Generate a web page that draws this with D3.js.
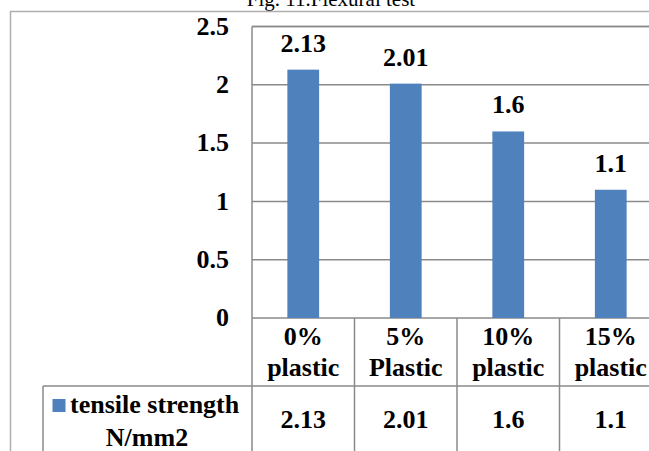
<!DOCTYPE html>
<html><head><meta charset="utf-8">
<script src="https://cdn.jsdelivr.net/npm/d3@7"></script>
<style>
html,body{margin:0;padding:0;background:#fff;overflow:hidden;}
</style></head>
<body>
<svg id="c" width="649" height="451"></svg>
<script>
const categories = ["0%|plastic", "5%|Plastic", "10%|plastic", "15%|plastic"];
const values = [2.13, 2.01, 1.6, 1.1];
const yTicks = [0, 0.5, 1, 1.5, 2, 2.5];
const seriesName = ["tensile strength", "N/mm2"];
const titleText = "Fig. 11.Flexural test";

const FONT = '"Liberation Serif"';
const svg = d3.select("#c");
const W = 649, H = 451;
const plotL = 252, plotR = 662, plotT = 26.5, plotB = 318;
const rowB = 386, legL = 43;
const grid = "#8a8a8a";
const barColor = "#4F81BD";

function bold(sel) {
  return sel.style("font-family", FONT).style("font-weight", "bold").style("font-size", "26px").attr("fill", "#000");
}

const x = d3.scaleBand().domain(categories).range([plotL, plotR]).paddingInner(0.69).paddingOuter(0.345);
const y = d3.scaleLinear().domain([0, 2.5]).range([plotB, plotT]);

// title
svg.append("text").attr("x", 331).attr("y", 6).attr("text-anchor", "middle")
  .style("font-family", FONT).style("font-size", "21px").attr("fill", "#000").text(titleText);

// outer frame
svg.append("path").attr("d", `M${W+5},11.5 H10.5 V${H+5}`).attr("fill", "none")
  .attr("stroke", "#aeaeae").attr("stroke-width", 1.5);

// gridlines
svg.append("g").selectAll("line").data(yTicks).join("line")
  .attr("x1", plotL).attr("x2", plotR)
  .attr("y1", d => y(d)).attr("y2", d => y(d))
  .attr("stroke", grid).attr("stroke-width", 1.5);

// y-axis labels
const yAxis = d3.axisLeft(y).tickValues(yTicks).tickSize(0).tickPadding(0).tickFormat(d3.format("~g"));
const ga = svg.append("g").attr("transform", `translate(229,0)`).call(yAxis);
ga.select(".domain").remove();
ga.attr("font-family", null).attr("font-size", null);
bold(ga.selectAll("text")).attr("dy", "0.3em");

// bars
svg.append("g").selectAll("rect").data(values).join("rect")
  .attr("x", (d, i) => x(categories[i])).attr("width", x.bandwidth())
  .attr("y", d => y(d)).attr("height", d => y(0) - y(d))
  .attr("fill", barColor);

// data labels
bold(svg.append("g").selectAll("text").data(values).join("text"))
  .attr("x", (d, i) => x(categories[i]) + x.bandwidth() / 2)
  .attr("y", d => y(d) - 18).attr("text-anchor", "middle")
  .text(d => d3.format("~g")(d));

// table lines
const step = x.step();
const edges = d3.range(categories.length + 1).map(i => plotL + i * step);
svg.append("line").attr("x1", plotL).attr("x2", plotL).attr("y1", plotT).attr("y2", H + 5)
  .attr("stroke", grid).attr("stroke-width", 1.5);
svg.append("g").selectAll("line").data(edges.slice(1)).join("line")
  .attr("x1", d => d).attr("x2", d => d).attr("y1", plotB).attr("y2", H + 5)
  .attr("stroke", grid).attr("stroke-width", 1.5);
svg.append("line").attr("x1", plotL).attr("x2", plotR).attr("y1", plotT).attr("y2", plotT)
  .attr("stroke", grid).attr("stroke-width", 1.5);
svg.append("line").attr("x1", legL).attr("x2", plotR).attr("y1", rowB).attr("y2", rowB)
  .attr("stroke", grid).attr("stroke-width", 1.5);
svg.append("line").attr("x1", legL).attr("x2", legL).attr("y1", rowB).attr("y2", H + 5)
  .attr("stroke", grid).attr("stroke-width", 1.5);

// category labels
const cat = bold(svg.append("g").selectAll("text").data(categories).join("text"))
  .attr("text-anchor", "middle");
cat.each(function(d, i) {
  const cx = plotL + (i + 0.5) * step;
  const parts = d.split("|");
  d3.select(this).selectAll("tspan").data(parts).join("tspan")
    .attr("x", cx).attr("y", (p, j) => 345 + j * 30.5).text(p => p);
});

// legend cell
svg.append("rect").attr("x", 52.5).attr("y", 399).attr("width", 13).attr("height", 13).attr("fill", barColor);
bold(svg.append("text")).attr("x", 70).attr("y", 413).text(seriesName[0]);
bold(svg.append("text")).attr("x", 147).attr("y", 445.5).attr("text-anchor", "middle").text(seriesName[1]);

// data row values
bold(svg.append("g").selectAll("text").data(values).join("text"))
  .attr("x", (d, i) => plotL + (i + 0.5) * step).attr("y", 428).attr("text-anchor", "middle")
  .text(d => d3.format("~g")(d));
</script>
</body></html>
